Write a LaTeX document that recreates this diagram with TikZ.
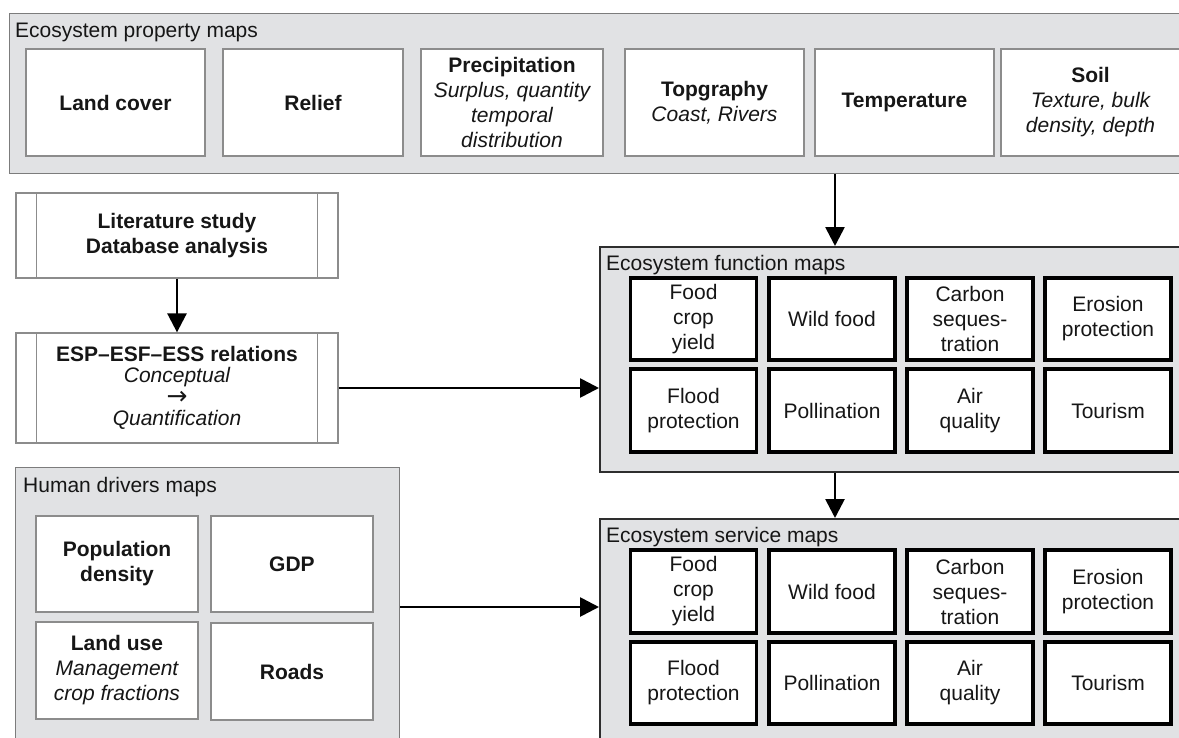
\documentclass[tikz,border=0pt]{standalone}
\usepackage{fontspec}
\setmainfont{Liberation Sans}
\newfontfamily\djv{DejaVu Sans}
\usetikzlibrary{arrows.meta}
\definecolor{panelgray}{HTML}{E1E2E4}
\definecolor{panelline}{HTML}{7C7C7C}
\definecolor{paneldark}{HTML}{2E2E2E}
\definecolor{boxline}{HTML}{8C8C8C}
\definecolor{txt}{HTML}{161616}
\newcommand\fsz{\fontsize{21pt}{25pt}\selectfont}
\begin{document}
\begin{tikzpicture}[x=1pt,y=-1pt,
  every node/.style={text=txt},
  panelA/.style={draw=panelline, fill=panelgray, line width=1.4pt, inner sep=0pt, anchor=north west},
  panelB/.style={draw=paneldark, fill=panelgray, line width=1.8pt, inner sep=0pt, anchor=north west},
  ptitle/.style={anchor=base west, inner sep=0pt, font=\fsz},
  propbox/.style={draw=boxline, fill=white, line width=1.3pt, inner sep=0pt, align=center, font=\fsz},
  fnbox/.style={draw=black, fill=white, line width=3.2pt, inner sep=0pt, align=center, font=\fsz,
                minimum width=126pt},
  hdbox/.style={draw=boxline, fill=white, line width=1.3pt, inner sep=0pt, align=center, font=\fsz,
                minimum width=162pt},
  arr/.style={draw=black, line width=2.7pt, -{Triangle[length=19pt,width=19pt]}}
]
\useasboundingbox (0,0) rectangle (1179,737);
\fill[white] (0,0) rectangle (1179,737);
\clip (0,0) rectangle (1179,737);

% ---------- Ecosystem property maps ----------
\node[panelA, minimum width=1190pt, minimum height=160pt] (prop) at (9,13) {};
\node[ptitle] (propt) at (15,37) {Ecosystem property maps};
\node[propbox, minimum width=179pt, minimum height=107pt] (landcover) at (115.5,102.5) {\bfseries Land cover};
\node[propbox, minimum width=180pt, minimum height=107pt] (relief) at (313,102.5) {\bfseries Relief};
\node[propbox, minimum width=182pt, minimum height=107pt] (precip) at (512,102.5)
  {\bfseries Precipitation\\\itshape Surplus, quantity\\\itshape temporal\\\itshape distribution};
\node[propbox, minimum width=179pt, minimum height=107pt] (topo) at (714.5,102.5)
  {\bfseries Topgraphy\\\itshape Coast, Rivers};
\node[propbox, minimum width=179pt, minimum height=107pt] (temp) at (904.5,102.5) {\bfseries Temperature};
\node[propbox, minimum width=179pt, minimum height=107pt] (soil) at (1090.5,102.5)
  {\bfseries Soil\\\itshape Texture, bulk\\\itshape density, depth};

% ---------- Literature / relations ----------
\node[propbox, minimum width=322pt, minimum height=85pt] (lit) at (177,235.5)
  {\bfseries Literature study\\\bfseries Database analysis};
\draw[boxline, line width=1.3pt] ([xshift=21pt]lit.north west) -- ([xshift=21pt]lit.south west)
  ([xshift=-21pt]lit.north east) -- ([xshift=-21pt]lit.south east);
\node[propbox, minimum width=322pt, minimum height=110pt, font=\fontsize{21pt}{21.5pt}\selectfont] (esp) at (177,388)
  {\bfseries ESP–ESF–ESS relations\\\itshape Conceptual\\{\djv\fontsize{25pt}{21.5pt}\selectfont →}\\\itshape Quantification};
\draw[boxline, line width=1.3pt] ([xshift=21pt]esp.north west) -- ([xshift=21pt]esp.south west)
  ([xshift=-21pt]esp.north east) -- ([xshift=-21pt]esp.south east);

% ---------- Ecosystem function maps ----------
\node[panelB, minimum width=600pt, minimum height=225pt] (fn) at (599,246) {};
\node[ptitle] (fnt) at (606,270) {Ecosystem function maps};
\node[fnbox, minimum height=82pt] (f1) at (693.5,319) {Food\\crop\\yield};
\node[fnbox, minimum height=82pt] (f2) at (832,319) {Wild food};
\node[fnbox, minimum height=82pt] (f3) at (970,319) {Carbon\\seques-\\tration};
\node[fnbox, minimum height=82pt] (f4) at (1108,319) {Erosion\\protection};
\node[fnbox, minimum height=83pt] (f5) at (693.5,410.5) {Flood\\protection};
\node[fnbox, minimum height=83pt] (f6) at (832,410.5) {Pollination};
\node[fnbox, minimum height=83pt] (f7) at (970,410.5) {Air\\quality};
\node[fnbox, minimum height=83pt] (f8) at (1108,410.5) {Tourism};

% ---------- Human drivers maps ----------
\node[panelA, minimum width=384pt, minimum height=290pt] (hd) at (15,467) {};
\node[ptitle] (hdt) at (23,492) {Human drivers maps};
\node[hdbox, minimum height=96pt] (pop) at (117,564) {\bfseries Population\\\bfseries density};
\node[hdbox, minimum height=96pt] (gdp) at (292,564) {\bfseries GDP};
\node[hdbox, minimum height=97pt] (lu) at (117,670.5)
  {\bfseries Land use\\\itshape Management\\\itshape crop fractions};
\node[hdbox, minimum height=97pt] (roads) at (292,671.5) {\bfseries Roads};

% ---------- Ecosystem service maps ----------
\node[panelB, minimum width=600pt, minimum height=240pt] (sv) at (599,518) {};
\node[ptitle] (svt) at (606,542) {Ecosystem service maps};
\node[fnbox, minimum height=83pt] (s1) at (693.5,591.5) {Food\\crop\\yield};
\node[fnbox, minimum height=83pt] (s2) at (832,591.5) {Wild food};
\node[fnbox, minimum height=83pt] (s3) at (970,591.5) {Carbon\\seques-\\tration};
\node[fnbox, minimum height=83pt] (s4) at (1108,591.5) {Erosion\\protection};
\node[fnbox, minimum height=82pt] (s5) at (693.5,683) {Flood\\protection};
\node[fnbox, minimum height=82pt] (s6) at (832,683) {Pollination};
\node[fnbox, minimum height=82pt] (s7) at (970,683) {Air\\quality};
\node[fnbox, minimum height=82pt] (s8) at (1108,683) {Tourism};

% ---------- connectors ----------
\coordinate (ax) at (835,0);
\coordinate (hy) at (0,607);
\draw[arr] (prop.south -| ax) -- (fn.north -| ax);
\draw[arr] (lit.south) -- (esp.north);
\draw[arr] (esp.east) -- (esp.east -| fn.west);
\draw[arr] (fn.south -| ax) -- (sv.north -| ax);
\draw[arr] (hd.east |- hy) -- (sv.west |- hy);
\end{tikzpicture}
\end{document}
